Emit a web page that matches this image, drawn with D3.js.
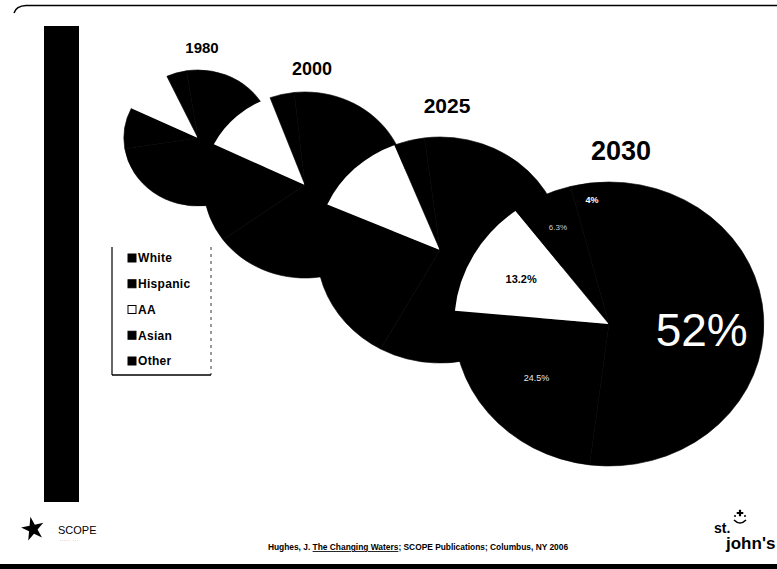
<!DOCTYPE html>
<html>
<head>
<meta charset="utf-8">
<script src="https://cdn.jsdelivr.net/npm/d3@7"></script>
<style>
  html, body { margin: 0; padding: 0; background: #fff; }
  svg { display: block; }
  text { font-family: "Liberation Sans", Arial, sans-serif; }
</style>
</head>
<body>
<svg id="chart" width="777" height="569"></svg>
<script>
// School population by race/ethnicity (percent), one pie per year
const categories = ["White", "Hispanic", "AA", "Asian", "Other"];
const years = ["1980", "2000", "2025", "2030"];
const values1980 = [72.5, 9.7, 10.9, 4.4, 2.5];
const values2000 = [65.0, 17.2, 12.2, 3.9, 1.7];
const values2025 = [58.0, 23.6, 12.4, 4.0, 2.0];
const values2030 = [52, 24.5, 13.2, 6.3, 4.0];
const seriesByYear = [values1980, values2000, values2025, values2030];
// only the last pie carries slice labels
const labelledYear = "2030";
const citation = ["Hughes, J. ", "The Changing Waters", "; SCOPE Publications; Columbus, NY 2006"];

// layout of the pies (centre, vertical radius), title placement
const pieLayout = [
  { cx: 198, cy: 138, r: 68, titleX: 202, titleY: 53, titleSize: 15 },
  { cx: 305, cy: 185, r: 93, titleX: 312, titleY: 75, titleSize: 18 },
  { cx: 440, cy: 250, r: 113, titleX: 447, titleY: 113, titleSize: 21 },
  { cx: 609, cy: 324, r: 142, titleX: 621, titleY: 160, titleSize: 27 }
];
const stretchX = 1.09;   // pies are drawn slightly wider than tall

const svg = d3.select("#chart");

const color = d3.scaleOrdinal()
  .domain(categories)
  .range(["#000", "#000", "#fff", "#000", "#000"]);

const pie = d3.pie().sort(null).value(d => d.value).startAngle(0).endAngle(2 * Math.PI);

// frame: thin top rule with rounded left end, heavy bottom rule
svg.append("path")
  .attr("d", "M14,13 Q16,6 26,5.5 L777,5.5")
  .attr("fill", "none").attr("stroke", "#000").attr("stroke-width", 1.4);
svg.append("rect").attr("x", 0).attr("y", 564).attr("width", 777).attr("height", 5).attr("fill", "#000");

// left accent bar
svg.append("rect").attr("x", 44).attr("y", 26).attr("width", 35).attr("height", 476).attr("fill", "#000");

// pies, earliest first so later years sit on top
years.forEach((year, i) => {
  const L = pieLayout[i];
  const data = categories.map((c, k) => ({ cat: c, value: seriesByYear[i][k] }));
  const arcs = pie(data);
  const arc = d3.arc().innerRadius(0).outerRadius(L.r);

  const g = svg.append("g")
    .attr("transform", `translate(${L.cx},${L.cy}) scale(${stretchX},1)`);
  g.selectAll("path")
    .data(arcs)
    .join("path")
    .attr("d", arc)
    .attr("fill", d => color(d.data.cat))
    .attr("stroke", d => d.data.cat === "AA" ? "none" : "#000")
    .attr("stroke-width", 0.6);

  svg.append("text")
    .attr("x", L.titleX).attr("y", L.titleY)
    .attr("text-anchor", "middle")
    .attr("font-weight", "bold")
    .attr("font-size", L.titleSize)
    .attr("fill", "#000")
    .text(year);

  if (year === labelledYear) {
    const labelStyle = {
      White:    { k: 0.6,  size: 46, fill: "#fff", weight: "normal" },
      Hispanic: { k: 0.6,  size: 9,  fill: "#e8e8e8", weight: "normal" },
      AA:       { k: 0.65, size: 11, fill: "#000", weight: "bold" },
      Asian:    { k: 0.76, size: 8,  fill: "#d0d0d0", weight: "normal" },
      Other:    { k: 0.88, size: 9,  fill: "#fff", weight: "bold" }
    };
    arcs.forEach(d => {
      const s = labelStyle[d.data.cat];
      const la = d3.arc().innerRadius(L.r * s.k).outerRadius(L.r * s.k);
      const [x, y] = la.centroid(d);
      svg.append("text")
        .attr("x", L.cx + x * stretchX)
        .attr("y", L.cy + y)
        .attr("dy", "0.36em")
        .attr("text-anchor", "middle")
        .attr("font-size", s.size)
        .attr("font-weight", s.weight)
        .attr("fill", s.fill)
        .text(d.data.value + "%");
    });
  }
});

// legend
const legend = svg.append("g").attr("transform", "translate(112,247)");
legend.append("line").attr("x1", 0).attr("y1", 0).attr("x2", 0).attr("y2", 128).attr("stroke", "#000").attr("stroke-width", 1.2);
legend.append("line").attr("x1", 0).attr("y1", 128).attr("x2", 99).attr("y2", 128).attr("stroke", "#000").attr("stroke-width", 1.4);
legend.append("line").attr("x1", 99).attr("y1", 0).attr("x2", 99).attr("y2", 128)
  .attr("stroke", "#000").attr("stroke-width", 0.8).attr("stroke-dasharray", "3,4");
const rowY = d3.scalePoint().domain(categories).range([11, 114]);
const rows = legend.selectAll("g.row").data(categories).join("g")
  .attr("class", "row")
  .attr("transform", c => `translate(16,${rowY(c)})`);
rows.append("rect")
  .attr("x", 0).attr("y", -4).attr("width", 8).attr("height", 8)
  .attr("fill", c => color(c)).attr("stroke", "#000").attr("stroke-width", 1);
rows.append("text")
  .attr("x", 10).attr("y", 0).attr("dy", "0.36em")
  .attr("font-size", 12).attr("font-weight", "bold").attr("letter-spacing", 0.3).attr("fill", "#000")
  .text(c => c);

// SCOPE mark, bottom left
svg.append("path")
  .attr("d", d3.symbol(d3.symbolStar, 160)())
  .attr("transform", "translate(33,529) rotate(-12) scale(1,1.05)")
  .attr("fill", "#000");
svg.append("text").attr("x", 58).attr("y", 534)
  .attr("font-size", 11).attr("fill", "#000").text("SCOPE");
svg.append("text").attr("x", 60).attr("y", 541)
  .attr("font-size", 4).attr("fill", "#333").attr("letter-spacing", 1).text("..... ...");

// citation line
const cite = svg.append("text")
  .attr("x", 418).attr("y", 550)
  .attr("text-anchor", "middle")
  .attr("font-size", 8.4).attr("font-weight", "bold").attr("fill", "#000");
citation.forEach((part, i) => {
  cite.append("tspan")
    .attr("text-decoration", i === 1 ? "underline" : null)
    .text(part);
});

// St. John's mark, bottom right
svg.append("text").attr("x", 714).attr("y", 533)
  .attr("font-family", "'Liberation Serif', 'DejaVu Serif', serif")
  .attr("font-size", 14).attr("font-weight", "bold").attr("fill", "#000").text("st.");
svg.append("text").attr("x", 726).attr("y", 549)
  .attr("font-family", "'Liberation Serif', 'DejaVu Serif', serif")
  .attr("font-size", 17).attr("font-weight", "bold").attr("fill", "#000").text("john's");
const crest = svg.append("g").attr("transform", "translate(740,518)");
crest.append("path").attr("d", d3.symbol(d3.symbolCross, 24)()).attr("transform", "translate(0,-5)").attr("fill", "#000");
crest.append("path").attr("d", "M-6,2 Q0,8 6,2").attr("fill", "none").attr("stroke", "#000").attr("stroke-width", 1.6);
crest.append("circle").attr("cx", -5).attr("cy", -2).attr("r", 1).attr("fill", "#000");
crest.append("circle").attr("cx", 5).attr("cy", -2).attr("r", 1).attr("fill", "#000");
</script>
</body>
</html>
